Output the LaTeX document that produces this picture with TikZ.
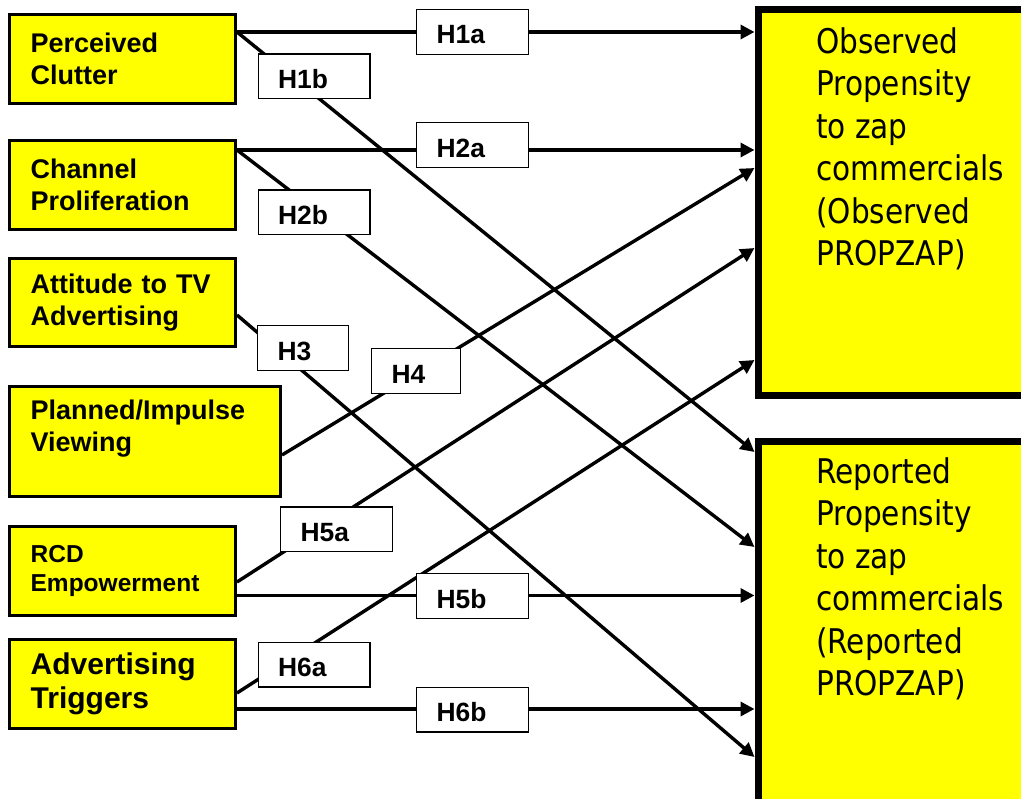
\documentclass[tikz,border=0pt]{standalone}
\usepackage{fontspec}
\setmainfont{Liberation Sans}
\newfontfamily\propfont[FakeStretch=0.87]{DejaVu Sans}
\usetikzlibrary{arrows.meta,calc}

\definecolor{boxyellow}{RGB}{255,255,0}
% label text sits slightly below the middle of its box
\newcommand{\hyptext}[1]{\raisebox{-3pt}[\height][\depth]{#1}}

\begin{document}
\begin{tikzpicture}[x=1pt,y=-1pt,
  factor/.style={draw, fill=boxyellow, line width=3.3pt, rectangle, align=left,
    inner xsep=21pt, inner ysep=0pt, minimum width=225.7pt, text width=183.7pt,
    minimum height=88.7pt, font=\bfseries\fontsize{27}{31.5}\selectfont},
  outcome/.style={draw, fill=boxyellow, line width=7pt, rectangle, anchor=north west,
    minimum width=300pt, inner sep=0pt},
  outtext/.style={anchor=north west, align=left, inner sep=0pt,
    font=\propfont\fontsize{34}{42.5}\selectfont},
  hyp/.style={draw, fill=white, line width=1.3pt, rectangle, align=left,
    minimum height=44.7pt, inner xsep=20pt, inner ysep=0pt, text width=71.7pt,
    font=\bfseries\fontsize{26.4}{30}\selectfont},
  link/.style={line width=3.4pt},
  arrowlink/.style={link, -{Triangle[length=14pt,width=14pt]}},
]
\useasboundingbox (0,0) rectangle (1021,799);

% explanatory factors
\node[factor] (n1) at (122.5,59) {Perceived\\Clutter};
\node[factor] (n2) at (122.5,185) {Channel\\Proliferation};
\node[factor, minimum height=87.7pt] (n3) at (122.5,302.5) {Attitude to TV\\Advertising};
\node[factor, minimum width=270.7pt, text width=228.7pt, minimum height=109.7pt] (n4) at (145,441.5)
  {Planned/Impulse\\Viewing\\~};
\node[factor, font=\bfseries\fontsize{24.5}{29}\selectfont] (n5) at (122.5,571) {RCD\\Empowerment};
\node[factor, font=\bfseries\fontsize{30}{34}\selectfont] (n6) at (122.5,684) {Advertising\\Triggers};

% outcome boxes
\node[outcome, minimum height=385.5pt] (obs) at (754.5,6.5) {};
\node[outcome, minimum height=360pt] (rep) at (754.5,438.5) {};
\node[outtext] (obstext) at (816,27)
  {Observed\\Propensity\\to zap\\commercials\\(Observed\\PROPZAP)};
\node[outtext] (reptext) at (816,457)
  {Reported\\Propensity\\to zap\\commercials\\(Reported\\PROPZAP)};

% start points on the factor boxes
\coordinate (s1) at ($(n1.east)+(0,-27)$);
\coordinate (s2) at ($(n2.east)+(0,-35)$);
\coordinate (s3) at ($(n3.east)+(0,12.5)$);
\coordinate (s4) at ($(n4.east)+(0,13.5)$);
\coordinate (s5a) at ($(n5.east)+(0,11)$);
\coordinate (s5b) at ($(n5.east)+(0,24.5)$);
\coordinate (s6a) at ($(n6.east)+(0,9)$);
\coordinate (s6b) at ($(n6.east)+(0,25)$);

% hypothesised paths
\draw[arrowlink] (s1) -- (s1 -| obs.west);
\draw[arrowlink] (s1) -- ($(rep.north west)+(0,13.5)$);
\draw[arrowlink] (s2) -- (s2 -| obs.west);
\draw[arrowlink] (s2) -- ($(rep.north west)+(0,108.5)$);
\draw[arrowlink] (s3) -- ($(rep.north west)+(0,318.5)$);
\draw[arrowlink] (s4) -- ($(obs.north west)+(0,161.5)$);
\draw[arrowlink] (s5a) -- ($(obs.north west)+(0,241.5)$);
\draw[arrowlink] (s5b) -- (s5b -| rep.west);
\draw[arrowlink] (s6a) -- ($(obs.north west)+(0,353.5)$);
\draw[arrowlink] (s6b) -- (s6b -| rep.west);

% hypothesis labels
\node[hyp] (h1a) at (472.5,32) {\hyptext{H1a}};
\node[hyp] (h1b) at (314,76.5) {\hyptext{H1b}};
\node[hyp] (h2a) at (472.5,145) {\hyptext{H2a}};
\node[hyp] (h2b) at (314,212.5) {\hyptext{H2b}};
\node[hyp, text width=50.7pt] (h3) at (303,348) {\hyptext{H3}};
\node[hyp, text width=48.7pt] (h4) at (416,371) {\hyptext{H4}};
\node[hyp] (h5a) at (336.5,529.5) {\hyptext{H5a}};
\node[hyp] (h5b) at (472.5,596) {\hyptext{H5b}};
\node[hyp] (h6a) at (314,664.5) {\hyptext{H6a}};
\node[hyp] (h6b) at (472.5,709.5) {\hyptext{H6b}};
\end{tikzpicture}
\end{document}
